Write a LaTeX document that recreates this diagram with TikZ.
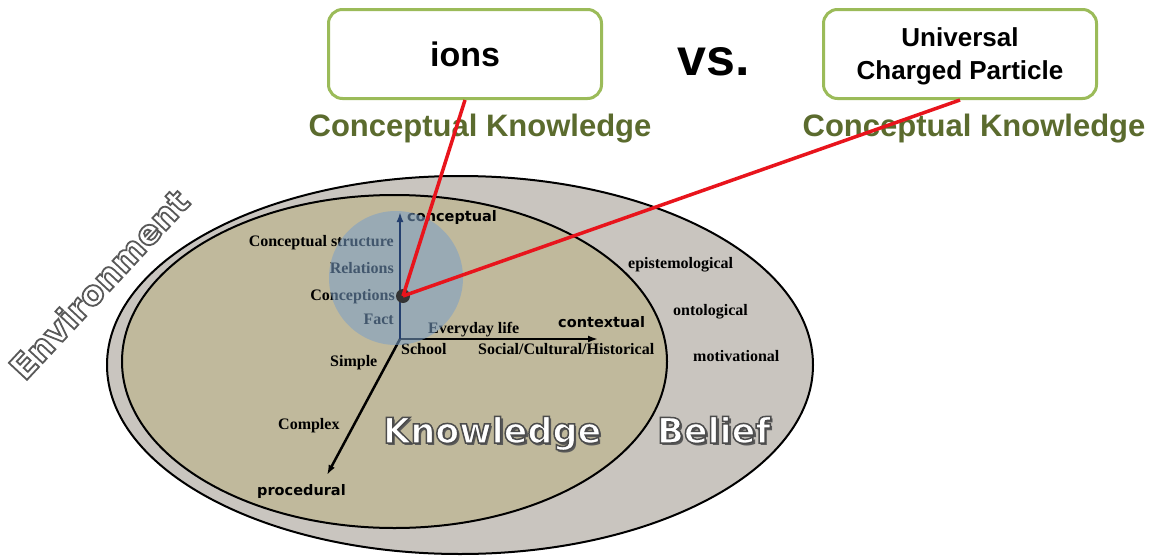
\documentclass[tikz,border=0pt]{standalone}
\usepackage{fontspec}
\setmainfont{Liberation Serif}
\setsansfont{Liberation Sans}
\newfontfamily\dvb{DejaVu Sans}
\usetikzlibrary{arrows.meta}
\definecolor{envgray}{HTML}{C9C5BF}
\definecolor{kntan}{HTML}{C0B99C}
\definecolor{ovblue}{HTML}{7A9FC8}
\definecolor{boxgreen}{HTML}{9BBB59}
\definecolor{ckolive}{HTML}{5B6B2E}
\definecolor{rline}{HTML}{E8141C}
\definecolor{navyax}{HTML}{243F6E}
\definecolor{dotgray}{HTML}{333333}
% outlined text: fill in current colour, stroke in grey #1 with width #2
\newcommand{\outlinetext}[3]{\special{pdf:literal direct #1 G #2 w 2 Tr}#3\special{pdf:literal direct 0 Tr}}
\begin{document}
\begin{tikzpicture}[x=1pt,y=-1pt,
  lbl/.style={font=\fontsize{16}{18}\selectfont\bfseries, inner sep=0pt, text=black},
  axlbl/.style={font=\dvb\fontsize{14.5}{16}\selectfont\bfseries, inner sep=0pt, text=black},
  big/.style={font=\dvb\fontsize{35}{40}\selectfont\bfseries, inner sep=0pt},
  termbox/.style={draw=boxgreen, line width=3pt, rounded corners=14pt, fill=white,
    minimum width=273pt, minimum height=89pt, inner sep=0pt, align=center},
  ck/.style={font=\sffamily\fontsize{31}{36}\selectfont\bfseries, text=ckolive, inner sep=0pt},
  axis/.style={line width=2.5pt, -{Latex[length=10pt,width=7pt]}},
  link/.style={draw=rline, line width=3.5pt}]
\useasboundingbox (0,0) rectangle (1152,557);
\fill[white] (0,0) rectangle (1152,557);

% ellipses
\draw[fill=envgray, line width=2pt] (460,365) ellipse [x radius=353pt, y radius=189pt];
\draw[fill=kntan, line width=2pt] (394.5,361.5) ellipse [x radius=272.5pt, y radius=166.5pt];

% environment label
\node[font=\dvb\fontsize{34}{38}\selectfont\bfseries, rotate=47, text=white, inner sep=0pt] (env) at (99,284) {\outlinetext{0.35}{1.8}{Environment}};

% axes
\coordinate (origin) at (400,339);
\coordinate (ctop) at (400,212);
\coordinate (cright) at (598,339);
\coordinate (cproc) at (327,475);
\draw[axis] (origin) -- (cright);
\draw[axis] (origin) -- (cproc);

% axis labels
\node[axlbl, anchor=base west] (conceptual) at (407,221) {conceptual};
\node[axlbl, anchor=base west] (contextual) at (558,327) {contextual};
\node[axlbl, anchor=base west] (procedural) at (257,495) {procedural};

\node[lbl, anchor=base east] (cstruct) at (394,246) {Conceptual structure};
\node[lbl, anchor=base east] (relations) at (394,273) {Relations};
\node[lbl, anchor=base east] (conceptions) at (395,300) {Conceptions};
\node[lbl, anchor=base east] (fact) at (394,324) {Fact};
\node[lbl, anchor=base west] (everyday) at (428,333) {Everyday life};
\node[lbl, anchor=base west] (school) at (401,354) {School};
\node[lbl, anchor=base west] (social) at (478,354) {Social/Cultural/Historical};
\node[lbl, anchor=base west] (simple) at (330,366) {Simple};
\node[lbl, anchor=base west] (complex) at (278,429) {Complex};
\node[lbl, anchor=base west] (episte) at (628,268) {epistemological};
\node[lbl, anchor=base west] (onto) at (673,315) {ontological};
\node[lbl, anchor=base west] (motiv) at (693,361) {motivational};

% big labels (shadow + outlined white)
\node[big, anchor=base west, text=black!65] (knowsh) at (385.5,445.5) {Knowledge};
\node[big, anchor=base west, text=white] (know) at (383,443) {\outlinetext{0.3}{1.5}{Knowledge}};
\node[big, anchor=base west, text=black!65] (beliefsh) at (659.5,445.5) {Belief};
\node[big, anchor=base west, text=white] (belief) at (657,443) {\outlinetext{0.3}{1.5}{Belief}};

% blue overlay
\fill[ovblue, fill opacity=0.55] (396,278) circle [radius=67pt];
\draw[axis, draw=navyax] (origin) -- (ctop);

% dot
\node[circle, fill=dotgray, minimum size=14pt, inner sep=0pt] (dot) at (403,296) {};

% top boxes
\node[termbox] (ions) at (465,54) {\sffamily\bfseries\fontsize{34}{38}\selectfont ions};
\node[termbox, font=\sffamily\bfseries\fontsize{26}{33}\selectfont, text depth=0pt] (ucp) at (960,54) {Universal\\Charged Particle};
\node[font=\sffamily\bfseries\fontsize{52}{56}\selectfont, anchor=base, inner sep=0pt] (vs) at (714,75) {vs.};

\node[ck, anchor=base] (ck1) at (480,136) {Conceptual Knowledge};
\node[ck, anchor=base] (ck2) at (974,136) {Conceptual Knowledge};

% red links
\draw[link] (dot.center) -- (ions.south);
\draw[link] (dot.center) -- (ucp.south);
\end{tikzpicture}
\end{document}
